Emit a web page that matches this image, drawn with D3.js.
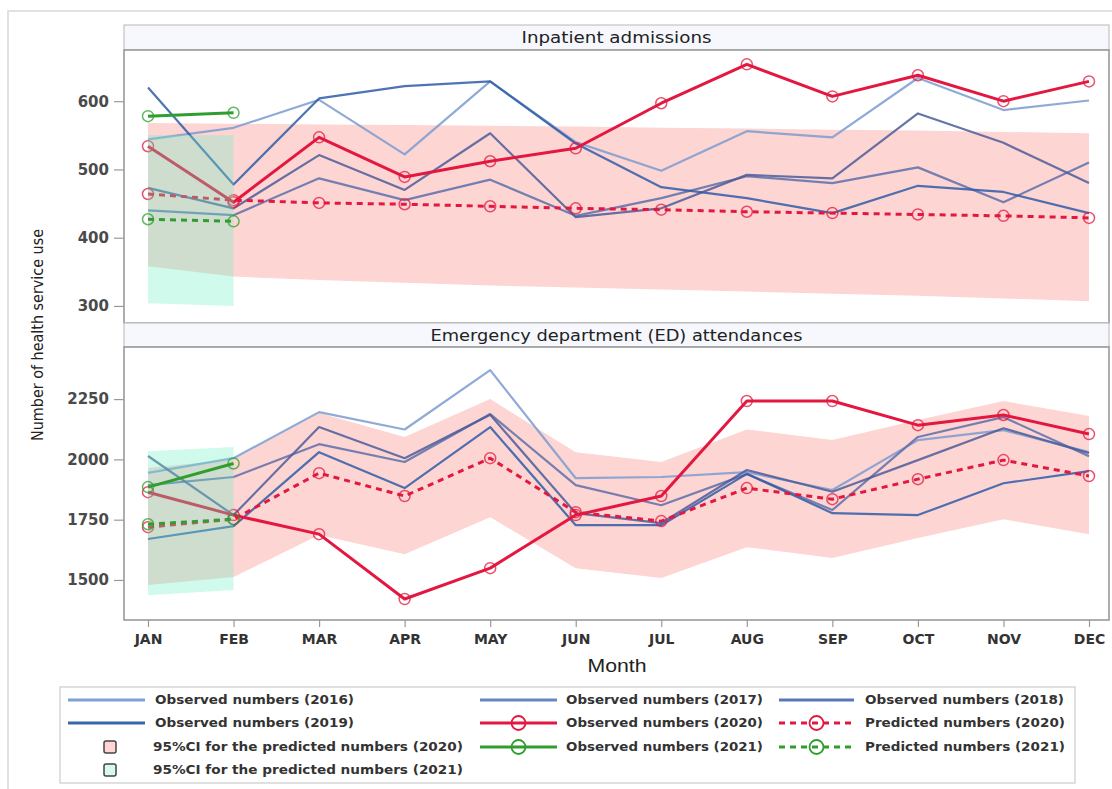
<!DOCTYPE html>
<html>
<head>
<meta charset="utf-8">
<script src="https://cdn.jsdelivr.net/npm/d3@7"></script>
<style>
  html, body { margin: 0; padding: 0; background: #ffffff; }
  svg { display: block; }
</style>
</head>
<body>
<svg id="chart" width="1112" height="789"></svg>
<script>
// ---------- DATA ----------
const months = ["JAN","FEB","MAR","APR","MAY","JUN","JUL","AUG","SEP","OCT","NOV","DEC"];
const months2021 = ["JAN","FEB"];

// Inpatient admissions
const ip2016 = [544,561,602,522,629,540,498,556,547,634,587,601];
const ip2017 = [440,433,487,455,485,432,458,490,480,503,452,510];
const ip2018 = [473,443,521,470,553,430,443,492,487,582,539,480];
const ip2019 = [620,478,604,622,629,538,474,458,436,476,467,436];
const ipObs2020 = [534,452,547,489,512,531,597,654,607,638,600,629];
const ipPred2020 = [464,455,451,449,446,443,441,438,436,434,432,429];
const ipLo2020 = [358,343,338,334,330,327,324,321,318,315,311,307];
const ipHi2020 = [568,567,566,565,564,563,561,560,558,557,555,553];
const ipObs2021 = [578,583];
const ipPred2021 = [427,424];
const ipLo2021 = [304,300];
const ipHi2021 = [550,550];

// Emergency department attendances
const ed2016 = [1944,2005,2196,2124,2370,1922,1927,1947,1873,2080,2121,2030];
const ed2017 = [1893,1927,2063,1989,2188,1893,1810,1939,1790,2093,2175,2013];
const ed2018 = [2014,1769,2134,2005,2185,1777,1736,1956,1866,1997,2129,2026];
const ed2019 = [1670,1723,2030,1881,2134,1727,1727,1940,1777,1769,1901,1951];
const edObs2020 = [1864,1769,1690,1421,1549,1769,1848,2242,2242,2142,2184,2105];
const edPred2020 = [1719,1752,1943,1848,2005,1781,1744,1881,1835,1918,1997,1931];
const edLo2020 = [1479,1512,1686,1607,1760,1549,1508,1636,1591,1674,1752,1690];
const edHi2020 = [1964,2000,2192,2093,2250,2030,1989,2124,2080,2163,2242,2180];
const edObs2021 = [1885,1983];
const edPred2021 = [1731,1752];
const edLo2021 = [1437,1458];
const edHi2021 = [2034,2051];

const ipTicks = [300,400,500,600];
const edTicks = [1500,1750,2000,2250];

// ---------- STYLE ----------
const C = {
  y2016: "#7b9bd0", y2017: "#5d6fa9", y2018: "#4b5c9a", y2019: "#2f5ca8",
  red: "#e3173f", green: "#2f9e2f",
  pink: "#fdd5d3", mint: "rgba(110,238,196,0.32)"
};

const svg = d3.select("#chart");
const W = 1112, H = 789;
const L = 124, R = 1109;

// outer frame
svg.append("path").attr("d", `M8,${H} V11 H${W}`).attr("fill","none").attr("stroke","#d8d8d8").attr("stroke-width",1.5);

const x = d3.scalePoint().domain(months).range([148, 1089]);

function panel(cfg) {
  const g = svg.append("g");
  const y = d3.scaleLinear().domain(cfg.domain).range([cfg.plotBottom, cfg.plotTop]);
  // header
  g.append("rect").attr("x", L).attr("y", cfg.headTop).attr("width", R-L).attr("height", cfg.plotTop-cfg.headTop)
    .attr("fill","#f6f8fd").attr("stroke","#c4c4c4").attr("stroke-width",1.2);
  g.append("text").attr("x", (L+R)/2).attr("y", (cfg.headTop+cfg.plotTop)/2 + 1)
    .attr("text-anchor","middle").attr("dominant-baseline","middle")
    .attr("font-family","DejaVu Sans, Verdana, sans-serif").attr("font-size",16).attr("fill","#222")
    .attr("textLength", cfg.titleLen).attr("lengthAdjust","spacingAndGlyphs")
    .text(cfg.title);
  // plot background
  g.append("rect").attr("x", L).attr("y", cfg.plotTop).attr("width", R-L).attr("height", cfg.plotBottom-cfg.plotTop).attr("fill","#fff");

  const clipId = "clip" + cfg.id;
  svg.append("clipPath").attr("id", clipId).append("rect")
    .attr("x", L).attr("y", cfg.plotTop).attr("width", R-L).attr("height", cfg.plotBottom-cfg.plotTop);
  const d = g.append("g").attr("clip-path", `url(#${clipId})`);

  const area = (lo, hi, dom) => d3.area().x((v,i)=>x(dom[i])).y0((v,i)=>y(lo[i])).y1((v,i)=>y(hi[i]))(lo);
  const line = (vals, dom) => d3.line().x((v,i)=>x(dom[i])).y(v=>y(v))(vals);

  // 2020 CI band
  d.append("path").attr("d", area(cfg.lo20, cfg.hi20, months)).attr("fill", C.pink);

  // historical observed lines
  [[cfg.s2016, C.y2016],[cfg.s2017, C.y2017],[cfg.s2018, C.y2018],[cfg.s2019, C.y2019]].forEach(([vals,col]) => {
    d.append("path").attr("d", line(vals, months)).attr("fill","none").attr("stroke", col)
      .attr("stroke-width", 2.2).attr("stroke-opacity", 0.85).attr("stroke-linejoin","round");
  });

  function series(vals, dom, col, dashed) {
    d.append("path").attr("d", line(vals, dom)).attr("fill","none").attr("stroke", col)
      .attr("stroke-width", 3).attr("stroke-dasharray", dashed ? "6,5" : null).attr("stroke-linejoin","round");
    d.selectAll(null).data(vals).enter().append("circle")
      .attr("cx", (v,i)=>x(dom[i])).attr("cy", v=>y(v)).attr("r", 5.5)
      .attr("fill","none").attr("stroke", col).attr("stroke-width", 1.5).attr("stroke-opacity", 0.75);
  }
  series(cfg.pred20, months, C.red, true);
  series(cfg.obs20, months, C.red, false);

  // 2021 CI band (drawn over)
  d.append("path").attr("d", area(cfg.lo21, cfg.hi21, months2021)).attr("fill", C.mint);
  series(cfg.pred21, months2021, C.green, true);
  series(cfg.obs21, months2021, C.green, false);

  // frame
  g.append("rect").attr("x", L).attr("y", cfg.plotTop).attr("width", R-L).attr("height", cfg.plotBottom-cfg.plotTop)
    .attr("fill","none").attr("stroke","#9a9a9a").attr("stroke-width",1.6);

  // y axis
  const ax = g.append("g").attr("transform", `translate(${L},0)`)
    .call(d3.axisLeft(y).tickValues(cfg.ticks).tickFormat(d3.format("d")).tickSize(10).tickPadding(5).tickSizeOuter(0));
  ax.select(".domain").remove();
  ax.selectAll(".tick line").attr("stroke","#999").attr("stroke-width",1.2);
  ax.selectAll(".tick text").attr("font-family","DejaVu Sans, Verdana, sans-serif").attr("font-weight","bold")
    .attr("font-size",15).attr("fill","#4a4a4a");
  return y;
}

panel({
  id: "ip", title: "Inpatient admissions", titleLen: 190,
  headTop: 25, plotTop: 50, plotBottom: 323, domain: [275, 675], ticks: ipTicks,
  s2016: ip2016, s2017: ip2017, s2018: ip2018, s2019: ip2019,
  obs20: ipObs2020, pred20: ipPred2020, lo20: ipLo2020, hi20: ipHi2020,
  obs21: ipObs2021, pred21: ipPred2021, lo21: ipLo2021, hi21: ipHi2021
});
panel({
  id: "ed", title: "Emergency department (ED) attendances", titleLen: 372,
  headTop: 323, plotTop: 347, plotBottom: 620, domain: [1334, 2466], ticks: edTicks,
  s2016: ed2016, s2017: ed2017, s2018: ed2018, s2019: ed2019,
  obs20: edObs2020, pred20: edPred2020, lo20: edLo2020, hi20: edHi2020,
  obs21: edObs2021, pred21: edPred2021, lo21: edLo2021, hi21: edHi2021
});

// x axis
const xa = svg.append("g").attr("transform","translate(0,620)")
  .call(d3.axisBottom(x).tickSize(7).tickPadding(7).tickSizeOuter(0));
xa.select(".domain").remove();
xa.selectAll(".tick line").attr("stroke","#999").attr("stroke-width",1.2);
xa.selectAll(".tick text").attr("font-family","DejaVu Sans, Verdana, sans-serif").attr("font-weight","bold")
  .attr("font-size",14).attr("fill","#333");

// axis titles
svg.append("text").attr("x", 617).attr("y", 667).attr("text-anchor","middle").attr("dominant-baseline","middle")
  .attr("font-family","Liberation Sans, Arial, sans-serif").attr("font-size",18).attr("fill","#222")
  .attr("textLength", 59).attr("lengthAdjust","spacingAndGlyphs").text("Month");
svg.append("text").attr("transform","translate(38,335) rotate(-90)").attr("text-anchor","middle").attr("dominant-baseline","middle")
  .attr("font-family","DejaVu Sans Condensed, Liberation Sans Narrow, sans-serif").attr("font-size",15).attr("fill","#222")
  .attr("textLength", 212).attr("lengthAdjust","spacingAndGlyphs").text("Number of health service use");

// ---------- LEGEND ----------
const lg = svg.append("g");
lg.append("rect").attr("x",60).attr("y",687).attr("width",1015).attr("height",96)
  .attr("fill","#fff").attr("stroke","#cfcfcf").attr("stroke-width",1.3);

const rows = [700, 723, 747, 770];
const cols = [{x0:68,x1:145,tx:155},{x0:480,x1:557,tx:566},{x0:779,x1:854,tx:865}];
const legendItems = [
  {r:0,c:0,type:"line",col:"#7fa0d4",label:"Observed numbers (2016)",len:199},
  {r:0,c:1,type:"line",col:"#6886c0",label:"Observed numbers (2017)",len:197},
  {r:0,c:2,type:"line",col:"#5677b8",label:"Observed numbers (2018)",len:199},
  {r:1,c:0,type:"line",col:"#3a66ad",label:"Observed numbers (2019)",len:199},
  {r:1,c:1,type:"mark",col:C.red,label:"Observed numbers (2020)",len:197},
  {r:1,c:2,type:"dash",col:C.red,label:"Predicted numbers (2020)",len:200},
  {r:2,c:0,type:"box",col:C.pink,label:"95%CI for the predicted numbers (2020)",len:310},
  {r:2,c:1,type:"mark",col:C.green,label:"Observed numbers (2021)",len:197},
  {r:2,c:2,type:"dash",col:C.green,label:"Predicted numbers (2021)",len:200},
  {r:3,c:0,type:"box",col:"#d6fbee",label:"95%CI for the predicted numbers (2021)",len:310}
];
legendItems.forEach(it => {
  const yy = rows[it.r], c = cols[it.c];
  let tx = c.tx;
  if (it.type === "box") {
    lg.append("rect").attr("x",104).attr("y",yy-6).attr("width",12).attr("height",12).attr("rx",2)
      .attr("fill",it.col).attr("stroke","#444").attr("stroke-width",1.5);
    tx = 153;
  } else {
    lg.append("line").attr("x1",c.x0).attr("x2",c.x1).attr("y1",yy).attr("y2",yy)
      .attr("stroke",it.col).attr("stroke-width",3)
      .attr("stroke-dasharray", it.type === "dash" ? "6,5" : null);
    if (it.type !== "line") {
      lg.append("circle").attr("cx",(c.x0+c.x1)/2).attr("cy",yy).attr("r",7)
        .attr("fill","none").attr("stroke",it.col).attr("stroke-width",1.8);
    }
  }
  lg.append("text").attr("x",tx).attr("y",yy).attr("dominant-baseline","middle")
    .attr("font-family","DejaVu Sans, Verdana, sans-serif").attr("font-weight","bold").attr("font-size",12.5)
    .attr("fill","#333").attr("textLength",it.len).attr("lengthAdjust","spacingAndGlyphs").text(it.label);
});
</script>
</body>
</html>
